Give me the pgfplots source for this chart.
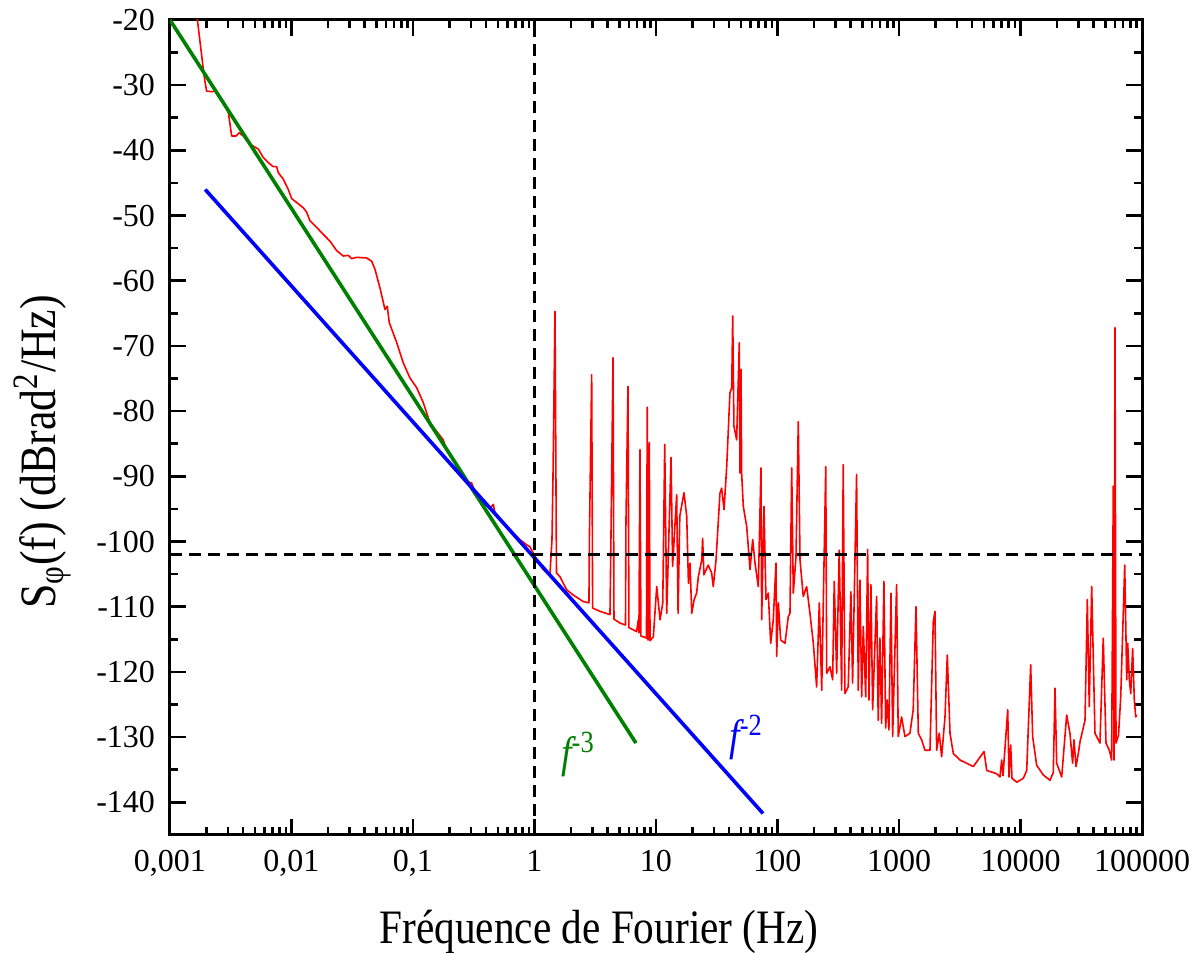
\documentclass[border=0pt]{standalone}
\usepackage{fontspec}
\setmainfont{Liberation Serif}
\newfontfamily\condserif[FakeStretch=0.86]{Liberation Serif}
\usepackage{pgfplots}
\pgfplotsset{compat=1.18}
\definecolor{fgreen}{RGB}{0,128,0}
\definecolor{fblue}{RGB}{0,0,255}
\definecolor{fred}{RGB}{255,0,0}
\begin{document}
\begin{tikzpicture}
\path[use as bounding box] (-85pt,-59pt) rectangle (515pt,417.5pt);
\begin{axis}[
  at={(0,0)}, anchor=south west,
  scale only axis, width=486pt, height=407.5pt,
  xmode=log, xmin=0.001, xmax=100000, ymin=-145, ymax=-20,
  axis line style={line width=1.5pt},
  tick style={line width=1.3pt, black},
  major tick length=8pt, minor tick length=4pt,
  tick align=inside,
  xtick={0.001,0.01,0.1,1,10,100,1000,10000,100000},
  xticklabels={{0,001},{0,01},{0,1},1,10,100,1000,10000,100000},
  minor xtick={0.002,0.003,0.004,0.005,0.006,0.007,0.008,0.009,
    0.02,0.03,0.04,0.05,0.06,0.07,0.08,0.09,
    0.2,0.3,0.4,0.5,0.6,0.7,0.8,0.9,
    2,3,4,5,6,7,8,9,
    20,30,40,50,60,70,80,90,
    200,300,400,500,600,700,800,900,
    2000,3000,4000,5000,6000,7000,8000,9000,
    20000,30000,40000,50000,60000,70000,80000,90000},
  ytick={-140,-130,...,-20},
  minor ytick={-135,-125,...,-25},
  tick label style={font=\fontsize{16}{16}\selectfont},
  /pgf/number format/assume math mode=true,
  yticklabel style={xshift=-4pt},
  xticklabel style={yshift=-4pt},
]
\addplot[fred, line width=0.8pt, line join=round] coordinates {
(0.00164,-18.3) (0.00191,-28.6) (0.00200,-30.9) (0.00220,-31.0) (0.00234,-30.9) (0.00258,-31.9) (0.00293,-33.7) (0.00302,-34.2) (0.00322,-37.8) (0.00349,-37.8) (0.00372,-37.3) (0.00401,-37.8) (0.00427,-38.5) (0.00470,-39.2) (0.00533,-39.8) (0.00586,-41.1) (0.00665,-42.1) (0.00708,-42.5) (0.00755,-42.5) (0.00778,-43.4) (0.00855,-44.4) (0.00941,-46.0) (0.01004,-47.4) (0.01104,-48.0) (0.0125,-48.8) (0.01334,-49.5) (0.01419,-50.8) (0.0161,-51.8) (0.0183,-52.9) (0.0207,-53.9) (0.0236,-55.4) (0.0267,-56.2) (0.0293,-56.1) (0.0313,-56.6) (0.0344,-56.4) (0.0416,-56.5) (0.0457,-57.0) (0.0486,-58.2) (0.0535,-61.1) (0.0588,-64.4) (0.0614,-63.9) (0.0638,-66.4) (0.0735,-69.5) (0.0832,-72.6) (0.0944,-74.9) (0.1072,-76.4) (0.1216,-78.7) (0.138,-81.8) (0.1567,-83.1) (0.1774,-84.4) (0.189,-85.9) (0.229,-88.5) (0.277,-90.8) (0.304,-91.0) (0.334,-93.1) (0.379,-94.1) (0.430,-94.9) (0.458,-94.3) (0.473,-95.6) (0.520,-96.7) (0.590,-97.7) (0.668,-98.7) (0.759,-99.7) (0.863,-100.5) (0.918,-100.8) (1.042,-102.8) (1.181,-104.3) (1.340,-105.1) (1.393,-99.7) (1.419,-90.5) (1.475,-64.7) (1.517,-104.8) (1.622,-105.4) (1.841,-107.4) (2.085,-108.2) (2.522,-109.2) (2.806,-109.4) (2.832,-99.3) (2.955,-74.4) (3.01,-110.2) (3.459,-110.7) (4.18,-111.2) (4.26,-99.3) (4.43,-71.8) (4.51,-111.9) (5.06,-112.5) (5.61,-112.8) (5.66,-97.0) (5.88,-76.2) (5.99,-113.2) (6.93,-113.8) (7.15,-112.0) (7.24,-114.0) (7.38,-85.9) (7.52,-114.5) (7.85,-114.6) (8.35,-114.8) (8.47,-79.4) (8.59,-115.1) (8.81,-84.8) (8.93,-115.2) (9.51,-114.6) (10.14,-106.9) (10.8,-112.0) (11.37,-109.4) (11.8,-85.1) (12.25,-111.0) (13.3,-87.1) (13.7,-103.8) (14.8,-92.8) (15.2,-111.0) (15.7,-96.1) (17.0,-92.5) (17.9,-96.1) (18.5,-106.4) (19.05,-103.3) (19.7,-111.0) (20.6,-108.9) (21.6,-107.9) (22.3,-105.4) (23.8,-102.8) (24.2,-99.5) (24.8,-105.1) (26.9,-103.6) (28.7,-104.8) (29.6,-106.9) (31.2,-102.8) (33.6,-92.6) (34.7,-91.8) (36.3,-95.1) (38.2,-88.5) (40.6,-77.2) (42.0,-76.4) (42.8,-65.4) (43.8,-82.3) (46.1,-84.4) (48.5,-69.5) (49.1,-89.5) (50.1,-73.6) (50.7,-89.5) (52.3,-94.6) (55.8,-97.7) (58.6,-102.8) (59.4,-104.3) (62.5,-99.7) (65.3,-103.3) (69.5,-106.9) (73.1,-88.7) (74.1,-112.0) (77.4,-94.6) (80.4,-108.9) (84.0,-107.9) (87.9,-115.6) (92.3,-112.0) (97.2,-103.3) (98.4,-117.6) (101.6,-109.4) (106.2,-115.1) (115.3,-115.6) (122.7,-111.5) (126.7,-111.0) (130.9,-88.7) (134.9,-107.9) (142.0,-102.3) (148.3,-81.6) (153.2,-102.8) (163.0,-108.4) (173.8,-106.9) (185.0,-111.0) (197.2,-115.6) (210.0,-122.3) (220.8,-109.4) (231.2,-122.8) (249.6,-88.5) (254.1,-120.2) (270.4,-119.2) (284.4,-121.2) (293.1,-106.1) (306.9,-120.2) (322.2,-101.3) (337.3,-122.8) (347.5,-88.2) (358.9,-123.3) (382.0,-122.3) (401.8,-107.7) (415.0,-121.7) (447.7,-89.7) (462.1,-122.8) (477.2,-105.9) (493.0,-123.8) (508.2,-113.0) (532.1,-123.8) (552.1,-101.2) (566.2,-124.3) (587.5,-106.6) (606.7,-125.8) (654.6,-108.4) (674.5,-127.4) (696.6,-114.8) (719.5,-127.9) (751.6,-106.1) (776.3,-128.6) (800.0,-124.3) (826.0,-128.9) (858.9,-107.9) (886.6,-129.9) (955.8,-106.6) (985.9,-129.9) (1051,-126.9) (1119,-129.9) (1230,-129.4) (1309,-125.8) (1380,-110.0) (1442,-129.4) (1536,-130.4) (1636,-132.0) (1799,-132.0) (1915,-112.3) (1977,-110.7) (2042,-132.0) (2145,-129.4) (2244,-133.0) (2391,-126.9) (2497,-117.4) (2630,-129.4) (2799,-132.5) (3177,-133.5) (3607,-134.0) (4090,-134.5) (5012,-132.2) (5272,-135.1) (6368,-135.6) (6776,-136.1) (7000,-133.5) (7178,-135.9) (7852,-125.8) (8041,-136.1) (8304,-131.2) (8511,-136.3) (9311,-136.9) (10550,-136.3) (11250,-135.1) (12130,-118.9) (12590,-129.9) (13590,-134.3) (15410,-135.8) (17500,-136.6) (18620,-135.4) (19230,-122.5) (19860,-134.0) (21830,-136.1) (23990,-126.6) (25530,-129.4) (26850,-134.0) (27540,-130.4) (28640,-134.5) (29920,-132.5) (30900,-130.7) (33960,-127.4) (35480,-108.9) (36810,-125.3) (38550,-106.9) (41020,-129.4) (45080,-130.9) (47980,-114.8) (50550,-130.9) (53810,-132.0) (56260,-133.5) (58030,-91.5) (58780,-133.5) (59950,-67.2) (61100,-130.9) (64100,-129.7) (66830,-123.8) (72080,-103.6) (74870,-121.2) (76270,-115.6) (78700,-121.2) (80740,-123.3) (83780,-116.4) (86440,-124.3) (88770,-126.9) (90420,-126.6)
};
\addplot[fgreen, line width=1.8pt] coordinates {(0.001,-20) (6.84,-130.9)};
\addplot[fblue, line width=1.8pt] coordinates {(0.00195,-46.0) (76,-141.7)};
\addplot[black, line width=1.2pt, dash pattern=on 6pt off 3.5pt] coordinates {(1,-145) (1,-20)};
\addplot[black, line width=1.2pt, dash pattern=on 6pt off 3.5pt] coordinates {(0.001,-102) (100000,-102)};
\node[text=fgreen, font=\condserif\fontsize{22}{22}\selectfont] at (axis cs:2.28,-132.7) {\itshape f\textsuperscript{\upshape -3}};
\node[text=fblue, font=\condserif\fontsize{22}{22}\selectfont] at (axis cs:55.1,-130.1) {\itshape f\textsuperscript{\upshape -2}};
\end{axis}
\node[anchor=base, font=\condserif\fontsize{24}{24}\selectfont] at (214.5pt,-54.5pt) {Fréquence de Fourier (Hz)};
\node[anchor=base, rotate=90, font=\condserif\fontsize{25.5}{25.5}\selectfont] at (-57pt,191.5pt) {S\textsubscript{φ}(f) (dBrad\textsuperscript{2}/Hz)};
\end{tikzpicture}
\end{document}
